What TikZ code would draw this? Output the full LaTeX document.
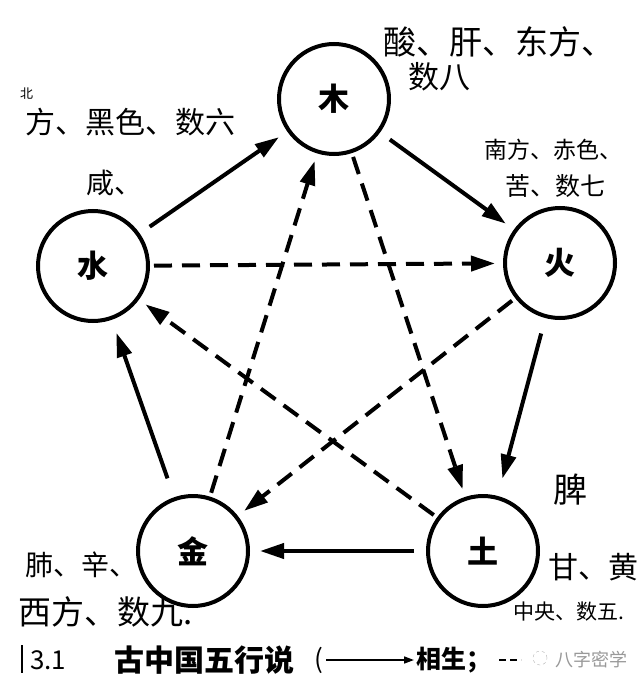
\documentclass[tikz,border=0pt]{standalone}
\usepackage{fontspec}
\newfontfamily\cjk{Noto Sans CJK SC}
\usetikzlibrary{arrows.meta}
\begin{document}
\begin{tikzpicture}[x=1pt,y=-1pt,
  elem/.style={circle,draw,line width=4pt,minimum size=110pt,inner sep=0pt,font=\cjk\bfseries\fontsize{31}{31}\selectfont},
  sheng/.style={line width=4pt,-{Triangle[length=24pt,width=15pt]},shorten <=12pt,shorten >=10pt},
  ke/.style={line width=4pt,dash pattern=on 18pt off 10pt,-{Triangle[length=24pt,width=15pt]},shorten <=4pt,shorten >=8pt},
  hand/.style={inner sep=0pt,anchor=west},
  captxt/.style={inner sep=0pt,anchor=west,font=\cjk\bfseries\fontsize{26}{26}\selectfont},
]
\useasboundingbox (0,0) rectangle (640,679);
\fill[white] (0,0) rectangle (640,679);

% elements
\node[elem] (mu)  at (334,99)  {木};
\node[elem] (shui) at (93,266) {水};
\node[elem] (huo) at (560,263) {火};
\node[elem] (jin) at (193,551) {金};
\node[elem] (tu)  at (483,551) {土};

% generating cycle (solid)
\draw[sheng] (shui) -- (mu);
\draw[sheng] (mu) -- (huo);
\draw[sheng,shorten <=16pt,shorten >=18pt] (huo) -- (tu);
\draw[sheng] (tu) -- (jin);
\draw[sheng,shorten <=20pt,shorten >=14pt] (jin) -- (shui);

% overcoming cycle (dashed)
\draw[ke] (shui) -- (huo);
\draw[ke] (huo) -- (jin);
\draw[ke] (jin) -- (mu);
\draw[ke] (mu) -- (tu);
\draw[ke] (tu) -- (shui);

% handwritten notes
\node[hand,font=\cjk\fontsize{33}{33}\selectfont] (tmu1) at (383,42) {酸、肝、东方、};
\node[hand,font=\cjk\fontsize{31}{31}\selectfont] (tmu2) at (408,77) {数八};
\node[hand,font=\cjk\fontsize{13}{13}\selectfont] (tshui0) at (20,94) {北};
\node[hand,font=\cjk\fontsize{30}{30}\selectfont] (tshui1) at (25,122) {方、黑色、数六};
\node[hand,font=\cjk\fontsize{28}{28}\selectfont] (tshui2) at (86,183) {咸、};
\node[hand,font=\cjk\fontsize{23}{23}\selectfont] (thuo1) at (484,150) {南方、赤色、};
\node[hand,font=\cjk\fontsize{25}{25}\selectfont] (thuo2) at (505,186) {苦、数七};
\node[hand,font=\cjk\fontsize{34}{34}\selectfont] (ttu1) at (553,490) {脾};
\node[hand,font=\cjk\fontsize{30}{30}\selectfont] (ttu2) at (548,567) {甘、黄};
\node[hand,font=\cjk\fontsize{21}{21}\selectfont] (ttu3) at (513,612) {中央、数五.};
\node[hand,font=\cjk\fontsize{28}{28}\selectfont] (tjin1) at (25,565) {肺、辛、};
\node[hand,font=\cjk\fontsize{33}{33}\selectfont] (tjin2) at (18,612) {西方、数九.};

% caption
\coordinate (bar1) at (22,645);
\coordinate (bar2) at (22,673);
\draw[line width=1.5pt] (bar1) -- (bar2);
\node[captxt,font=\cjk\fontsize{26}{26}\selectfont] (c1) at (30,660) {3.1};
\node[captxt,font=\cjk\bfseries\fontsize{30}{30}\selectfont] (c2) at (114,660) {古中国五行说};
\node[captxt,font=\cjk\fontsize{26}{26}\selectfont] (c3) at (314,660) {(};
\node[captxt,font=\cjk\bfseries\fontsize{25}{25}\selectfont] (c4) at (416,660) {相生；};
\draw[line width=1.6pt,-{Triangle[length=10pt,width=7pt]},shorten <=3pt,shorten >=2pt] (c3.east) -- (c4.west);
\coordinate (d1) at (499,660);
\coordinate (d2) at (521,660);
\draw[line width=1.6pt,dash pattern=on 7pt off 4pt] (d1) -- (d2);
\node[circle,draw=gray!60,dashed,minimum size=14pt,inner sep=0pt] (wm0) at (540,658) {};
\node[hand,font=\cjk\fontsize{18}{18}\selectfont,text=gray!80] (wm1) at (555,660) {八字密学};
\end{tikzpicture}
\end{document}
